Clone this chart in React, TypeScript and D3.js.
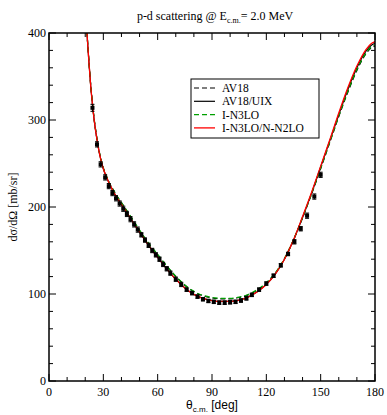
import React from "react";
import * as d3 from "d3";

const thetaModel = [20.5, 21, 22, 23, 24, 25, 26, 28, 30, 32, 34, 36, 38, 40, 45, 50, 55, 60, 65, 70, 75, 80, 85, 90, 95, 100, 105, 110, 115, 120, 125, 130, 135, 140, 145, 150, 155, 160, 165, 170, 175, 178, 180];
const av18UixVals = [420, 400, 368, 340, 318, 299, 284, 260, 244, 233, 224, 216, 209, 203, 187, 171, 156, 142, 129, 117, 107, 99.5, 95, 92.5, 91.5, 91.5, 93, 96.5, 102.5, 111, 123, 140, 162, 188, 216, 246, 276, 306, 335, 360, 379, 386, 388];
const in3loN2loVals = [420, 400, 368, 340, 318, 299, 284, 260, 244, 233, 224, 216, 209, 203, 187, 171, 156, 142, 129, 117, 107, 99.5, 95, 92.5, 91.5, 91.5, 93, 96.5, 102.5, 111, 123, 140, 162, 189, 217, 247, 277, 308, 337, 362, 381, 388, 390];
const av18Vals = [420, 400, 369, 341, 319, 300, 285, 261, 245, 234, 225, 218, 211, 205, 189, 173, 158, 145, 132, 120, 110, 102.5, 98, 95.5, 94.5, 94.5, 96, 99, 104.5, 112.5, 124, 140.5, 162, 187.5, 215, 244, 274, 304, 332, 357, 376, 383, 385];
const in3loVals = [420, 400, 369, 341, 319, 300, 285, 261, 245, 234, 225, 218, 211, 205, 189.5, 173.5, 158.5, 145.5, 132.5, 120.5, 110.5, 103, 98.5, 96, 95, 95, 96.5, 99.5, 105, 113, 124.5, 141, 162.5, 188, 215.5, 244.5, 274.5, 304.5, 333, 358, 377, 384, 386];

const thetaData = [24, 26.5, 28.5, 31, 33, 35, 37, 39, 41, 43, 45, 47, 49, 51, 53, 55, 57, 59, 61, 63, 65, 67, 70, 73, 76, 79, 82, 85, 88, 91, 94, 97, 100, 103, 106, 109, 112, 116, 120, 124, 128, 132, 135.5, 139, 142.5, 146.5, 150];
const sigmaData = [314, 272, 249, 234, 224, 216, 210, 204, 198, 192, 186, 180, 174, 168, 162, 156, 150, 145, 140, 134, 129, 124, 117, 111, 105, 101, 97, 94, 92, 91, 90, 90, 90.5, 91, 92.5, 95, 99, 105, 112, 121, 133, 146, 160, 175, 190, 212, 237];
const sigmaErr = [4, 3, 3, 3, 3, 3, 3, 3, 3, 3, 3, 3, 3, 2.5, 2.5, 2.5, 2.5, 2.5, 2.5, 2.5, 2.5, 2.5, 2.5, 2.5, 2, 2, 2, 2, 2, 2, 2, 2, 2, 2, 2, 2, 2, 2, 2, 2, 2, 2, 2.5, 2.5, 3, 3, 3];

const xTicks = [0, 30, 60, 90, 120, 150, 180];
const yTicks = [0, 100, 200, 300, 400];

const legendLabels = ["AV18", "AV18/UIX", "I-N3LO", "I-N3LO/N-N2LO"];

export default function App() {
  const W = 387, H = 415;
  const L = 49, R = 375, T = 33, B = 381;
  const x = d3.scaleLinear().domain([0, 180]).range([L, R]);
  const y = d3.scaleLinear().domain([0, 400]).range([B, T]);
  const line = (vals: number[]) =>
    d3.line<number>().x((_, i) => x(thetaModel[i])).y((v) => y(v)).curve(d3.curveMonotoneX)(vals) || "";

  const series = [
    { vals: av18Vals, color: "#000", dash: "5,3", w: 1.2 },
    { vals: av18UixVals, color: "#000", dash: "", w: 1.2 },
    { vals: in3loVals, color: "#00a000", dash: "5,3", w: 1.2 },
    { vals: in3loN2loVals, color: "#ff0000", dash: "", w: 1.3 },
  ];

  const xMinor = d3.range(0, 181, 10);
  const yMinor = d3.range(0, 401, 20);
  const serif = "'Liberation Serif', 'Times New Roman', serif";
  const sans = "'Liberation Sans', Arial, sans-serif";

  return (
    <svg width={W} height={H} style={{ position: "absolute", left: 0, top: 0, background: "#fff" }}>
      <defs>
        <clipPath id="clip">
          <rect x={L} y={T} width={R - L} height={B - T} />
        </clipPath>
      </defs>
      <text x={215} y={20} textAnchor="middle" fontFamily={serif} fontSize={12}>
        p-d scattering @ E<tspan fontSize={8} dy={3}>c.m.</tspan><tspan dy={-3}>= 2.0 MeV</tspan>
      </text>
      <g clipPath="url(#clip)">
        {series.map((s, i) => (
          <path key={i} d={line(s.vals)} fill="none" stroke={s.color} strokeWidth={s.w} strokeDasharray={s.dash || undefined} />
        ))}
      </g>
      {thetaData.map((t, i) => {
        const cx = x(t), cy = y(sigmaData[i]);
        const e1 = y(sigmaData[i] + sigmaErr[i]), e2 = y(sigmaData[i] - sigmaErr[i]);
        return (
          <g key={i}>
            <line x1={cx} x2={cx} y1={e1} y2={e2} stroke="#000" strokeWidth={1} />
            <line x1={cx - 2} x2={cx + 2} y1={e1} y2={e1} stroke="#000" strokeWidth={1} />
            <line x1={cx - 2} x2={cx + 2} y1={e2} y2={e2} stroke="#000" strokeWidth={1} />
            <rect x={cx - 2} y={cy - 2} width={4} height={4} fill="#000" />
          </g>
        );
      })}
      <rect x={L} y={T} width={R - L} height={B - T} fill="none" stroke="#000" strokeWidth={1.5} />
      {xMinor.map((v) => {
        const major = v % 30 === 0;
        const len = major ? 7 : 4;
        return (
          <g key={"x" + v}>
            <line x1={x(v)} x2={x(v)} y1={B} y2={B - len} stroke="#000" strokeWidth={1} />
            <line x1={x(v)} x2={x(v)} y1={T} y2={T + len} stroke="#000" strokeWidth={1} />
          </g>
        );
      })}
      {yMinor.map((v) => {
        const major = v % 100 === 0;
        const len = major ? 7 : 4;
        return (
          <g key={"y" + v}>
            <line x1={L} x2={L + len} y1={y(v)} y2={y(v)} stroke="#000" strokeWidth={1} />
            <line x1={R} x2={R - len} y1={y(v)} y2={y(v)} stroke="#000" strokeWidth={1} />
          </g>
        );
      })}
      {xTicks.map((v) => (
        <text key={"xt" + v} x={x(v)} y={B + 15} textAnchor="middle" fontFamily={serif} fontSize={12}>
          {v}
        </text>
      ))}
      {yTicks.map((v) => (
        <text key={"yt" + v} x={L - 3} y={y(v) + 4} textAnchor="end" fontFamily={serif} fontSize={12}>
          {v}
        </text>
      ))}
      <text x={212} y={409} textAnchor="middle" fontFamily={sans} fontSize={12}>
        θ<tspan fontSize={8} dy={3}>c.m.</tspan><tspan dy={-3}> [deg]</tspan>
      </text>
      <text transform={`translate(17,${(T + B) / 2}) rotate(-90)`} textAnchor="middle" fontFamily={serif} fontSize={12}>
        dσ/dΩ [mb/sr]
      </text>
      <rect x={191} y={79} width={128} height={59} fill="#fff" stroke="#000" strokeWidth={1} />
      {legendLabels.map((lab, i) => {
        const yy = 88 + i * 13.3;
        const s = series[i];
        return (
          <g key={lab}>
            <line x1={194} x2={215} y1={yy} y2={yy} stroke={s.color} strokeWidth={s.w} strokeDasharray={s.dash || undefined} />
            <text x={222} y={yy + 4} fontFamily={serif} fontSize={11.5}>
              {lab}
            </text>
          </g>
        );
      })}
    </svg>
  );
}
